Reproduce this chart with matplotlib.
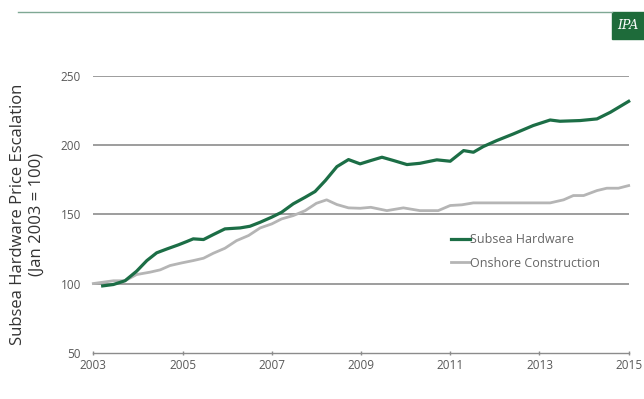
import matplotlib.pyplot as plt
from matplotlib.patches import Rectangle
from matplotlib.lines import Line2D

plt.rcParams['font.family'] = ['Open Sans', 'DejaVu Sans']

# Subsea hardware index
subsea_years = [2003.21, 2003.45, 2003.71, 2003.97, 2004.2, 2004.42, 2004.65, 2004.91,
                2005.09, 2005.24, 2005.47, 2005.69, 2005.95, 2006.29, 2006.51, 2006.74,
                2007.0, 2007.22, 2007.48, 2007.75, 2007.97, 2008.2, 2008.46, 2008.72,
                2008.98, 2009.22, 2009.47, 2009.73, 2010.03, 2010.32, 2010.7, 2011.0,
                2011.3, 2011.52, 2011.74, 2012.04, 2012.42, 2012.86, 2013.24, 2013.46,
                2013.91, 2014.29, 2014.59, 2015.0]
subsea_vals = [98.3, 99.3, 102, 108.9, 116.6, 122.2, 125, 128,
               130.3, 132.3, 131.8, 135.4, 139.5, 140.2, 141.4, 144.3,
               148, 151.5, 157.6, 162.4, 166.5, 174.4, 184.5, 189.6,
               186.5, 188.9, 191.3, 188.9, 186, 186.9, 189.4, 188.4,
               196.1, 194.9, 199, 203.3, 208.2, 214.2, 218.2, 217.3,
               217.8, 219, 223.8, 231.7]

# Onshore construction index
onshore_years = [2003.0, 2003.45, 2003.71, 2003.97, 2004.27, 2004.5, 2004.72, 2004.98,
                 2005.24, 2005.47, 2005.69, 2005.95, 2006.21, 2006.48, 2006.74, 2007.0,
                 2007.22, 2007.48, 2007.75, 2008.0, 2008.23, 2008.46, 2008.72, 2008.98,
                 2009.22, 2009.58, 2009.95, 2010.32, 2010.73, 2011.0, 2011.26, 2011.52,
                 2012.04, 2012.72, 2013.24, 2013.54, 2013.76, 2013.99, 2014.29, 2014.51,
                 2014.77, 2015.0]
onshore_vals = [100, 102, 102, 106.5, 108.2, 109.9, 113, 114.9,
                116.6, 118.3, 121.9, 125.5, 131, 134.7, 140.2, 143.1,
                146.7, 149.1, 152.7, 158, 160.5, 157.1, 154.7, 154.4,
                155.1, 152.7, 154.7, 152.7, 152.7, 156.4, 156.9, 158.3,
                158.3, 158.3, 158.3, 160.5, 163.6, 163.6, 167.2, 168.9,
                168.9, 170.8]

year_ticks = [2003, 2005, 2007, 2009, 2011, 2013, 2015]
value_ticks = [50, 100, 150, 200, 250]

GREEN = '#1c6e46'
GREY_LINE = '#b5b5b5'
TICK_COL = '#595959'

fig = plt.figure(figsize=(6.44, 3.99), dpi=100)
ax = fig.add_axes([0.1449, 0.116, 0.8313, 0.6935])

for v in value_ticks[1:]:
    ax.axhline(v, color='#8c8c8c', lw=1.2, zorder=1)

ax.plot(onshore_years, onshore_vals, color=GREY_LINE, lw=2, zorder=3, clip_on=False)
ax.plot(subsea_years, subsea_vals, color=GREEN, lw=2.3, zorder=4, clip_on=False)

ax.set_xlim(2003, 2015)
ax.set_ylim(50, 250)
ax.set_xticks(year_ticks)
ax.set_xticklabels([str(y) for y in year_ticks])
ax.set_yticks(value_ticks)

for s in ['top', 'right', 'left']:
    ax.spines[s].set_visible(False)
ax.spines['bottom'].set_color('#8c8c8c')
ax.spines['bottom'].set_linewidth(1.0)
ax.tick_params(axis='x', colors='#8c8c8c', labelcolor=TICK_COL, labelsize=8.5,
               length=3, width=1, direction='inout', pad=3)
ax.tick_params(axis='y', labelcolor=TICK_COL, labelsize=8.5, length=0, pad=9)

ax.set_ylabel('Subsea Hardware Price Escalation\n(Jan 2003 = 100)', fontsize=12,
              color='#333333', linespacing=1.25, labelpad=11)

handles = [Line2D([], [], color=GREEN, lw=2.3), Line2D([], [], color=GREY_LINE, lw=2)]
leg = ax.legend(handles, ['Subsea Hardware', 'Onshore Construction'],
                loc='upper left', bbox_to_anchor=(0.669, 0.433), frameon=False,
                fontsize=9, handlelength=1.45, handletextpad=0.05, labelspacing=0.85,
                borderpad=0, borderaxespad=0)
for t in leg.get_texts():
    t.set_color('#666666')

# header rule and logo
fig.add_artist(Line2D([0.028, 0.95], [0.97, 0.97], color='#7fa894', lw=1.0))
fig.add_artist(Rectangle((0.951, 0.902), 0.049, 0.068, color='#1e6b3a',
                         transform=fig.transFigure))
fig.text(0.975, 0.936, 'IPA', color='white', fontsize=9, style='italic',
         family='DejaVu Serif', ha='center', va='center')

fig.savefig('out.png', dpi=100)
